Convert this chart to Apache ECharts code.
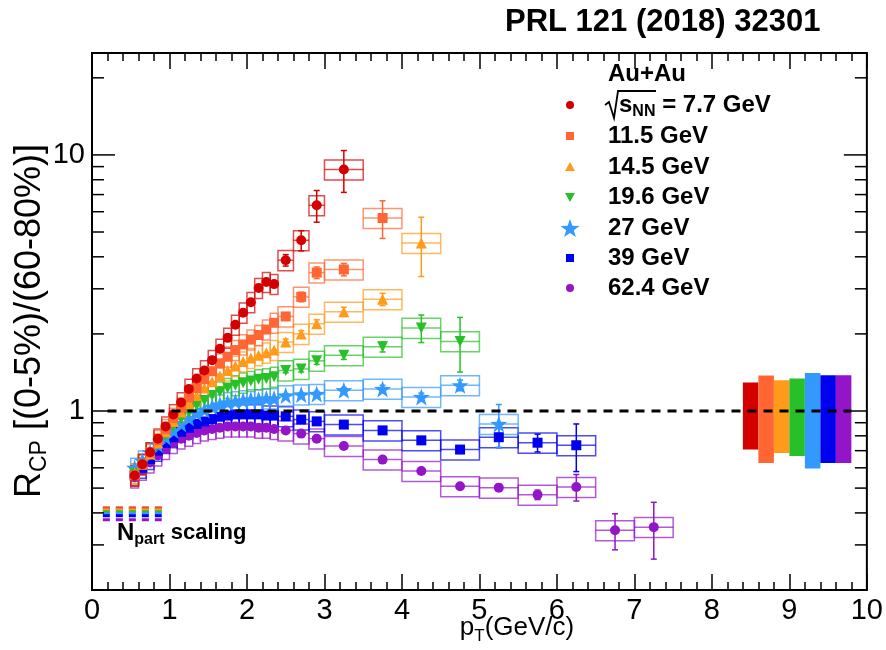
<!DOCTYPE html>
<html><head><meta charset="utf-8">
<script src="https://cdn.jsdelivr.net/npm/echarts@6/dist/echarts.min.js"></script>
<style>html,body{margin:0;padding:0;background:#fff}#c{width:886px;height:650px}</style>
</head><body><div id="c"></div>
<script>
// ---------------- data ----------------
const energies = ['7.7', '11.5', '14.5', '19.6', '27', '39', '62.4'];
const colors = ['#d40000', '#ff6633', '#ff9a1a', '#28c028', '#3399ff', '#0000f0', '#9414c8'];

const ptDense = [0.55,0.65,0.75,0.85,0.95,1.05,1.15,1.25,1.35,1.45,1.55,1.65,1.75,1.85,1.95,2.05,2.15,2.25,2.35];
const ptWide = [2.5,2.7,2.9,3.25,3.75,4.25,4.75,5.25,5.75,6.25,6.75,7.25];
const halfWide = [0.1,0.1,0.1,0.25,0.25,0.25,0.25,0.25,0.25,0.25,0.25,0.25];

const rcp77Dense   = [0.56,0.62,0.69,0.78,0.87,0.97,1.08,1.22,1.34,1.44,1.58,1.75,1.93,2.17,2.42,2.66,3.02,3.19,3.13];
const rcp115Dense  = [0.56,0.62,0.69,0.77,0.85,0.94,1.03,1.13,1.23,1.33,1.43,1.53,1.63,1.73,1.82,1.90,1.98,2.08,2.21];
const rcp145Dense  = [0.57,0.62,0.68,0.75,0.83,0.91,0.99,1.07,1.15,1.23,1.30,1.37,1.44,1.50,1.56,1.61,1.65,1.69,1.73];
const rcp196Dense  = [0.57,0.62,0.68,0.74,0.80,0.87,0.93,0.99,1.05,1.10,1.15,1.19,1.23,1.26,1.29,1.31,1.33,1.34,1.36];
const rcp27Dense   = [0.60,0.64,0.69,0.74,0.79,0.84,0.89,0.94,0.98,1.01,1.04,1.06,1.08,1.09,1.10,1.11,1.11,1.12,1.12];
const rcp39Dense   = [0.56,0.60,0.65,0.70,0.75,0.79,0.83,0.86,0.89,0.91,0.93,0.95,0.96,0.97,0.97,0.97,0.97,0.96,0.96];
const rcp624Dense  = [0.55,0.59,0.63,0.67,0.71,0.75,0.78,0.80,0.82,0.84,0.85,0.86,0.87,0.87,0.87,0.87,0.86,0.86,0.85];

const rcp77Wide  = [3.88,4.64,6.36,8.77];
const err77Wide  = [0.20,0.42,0.90,1.63];
const rcp115Wide = [2.34,2.79,3.47,3.57,5.67];
const err115Wide = [0.08,0.12,0.18,0.20,0.95];
const rcp145Wide = [1.86,2.00,2.19,2.44,2.73,4.53];
const err145Wide = [0.05,0.06,0.08,0.10,0.15,1.18];
const rcp196Wide = [1.44,1.46,1.57,1.65,1.78,2.11,1.87];
const err196Wide = [0.03,0.04,0.05,0.06,0.08,0.26,0.45];
const rcp27Wide  = [1.15,1.16,1.165,1.205,1.22,1.134,1.26,0.89];
const err27Wide  = [0.02,0.02,0.03,0.03,0.04,0.04,0.06,0.17];
const rcp39Wide  = [0.953,0.926,0.911,0.885,0.84,0.768,0.707,0.79,0.752,0.735];
const err39Wide  = [0.01,0.01,0.01,0.01,0.01,0.02,0.02,0.07,0.06,0.155];
const rcp624Wide = [0.84,0.816,0.78,0.73,0.646,0.583,0.508,0.502,0.471,0.505,0.342,0.352];
const err624Wide = [0.01,0.01,0.01,0.01,0.01,0.01,0.01,0.015,0.02,0.06,0.055,0.088];

const sysRel = 0.09;

// normalization uncertainty bands (right side)
const normX0 = [8.4,8.6,8.8,9.0,9.2,9.4,9.6];
const normW = 0.2;
const normLo = [0.707,0.627,0.685,0.667,0.596,0.627,0.627];
const normHi = [1.291,1.375,1.318,1.338,1.407,1.378,1.378];

// Npart scaling levels
const npartVal = [0.418,0.415,0.410,0.404,0.398,0.390,0.376];
const npartRange = [0.14, 0.9];

// axes
const yMin = 0.2, yMax = 25;
const yTicks = [0.2,0.3,0.4,0.5,0.6,0.7,0.8,0.9,1,2,3,4,5,6,7,8,9,10,20];
const yMajor = [1,10];
const xTickLabels = ['0','1','2','3','4','5','6','7','8','9','10'];

// ---------------- chart ----------------
const FONT = "'Liberation Sans',Arial,sans-serif";
const FONTB = "'Liberation Sans',Arial,sans-serif";
const STAR = 'path://M50 0 L61.76 33.82 L97.55 34.55 L69.02 56.18 L79.39 90.45 L50 70 L20.61 90.45 L30.98 56.18 L2.45 34.55 L38.24 33.82 Z';
const symbols = ['circle','rect','triangle','triangle',STAR,'rect','circle'];
const symRot = [0,0,0,180,0,0,0];
const symSize = [10,10,11,11,17,10,10];

const denseAll = [rcp77Dense,rcp115Dense,rcp145Dense,rcp196Dense,rcp27Dense,rcp39Dense,rcp624Dense];
const wideAll = [rcp77Wide,rcp115Wide,rcp145Wide,rcp196Wide,rcp27Wide,rcp39Wide,rcp624Wide];
const errAll = [err77Wide,err115Wide,err145Wide,err196Wide,err27Wide,err39Wide,err624Wide];

function mkData(k){
  const d = [];
  denseAll[k].forEach((v,i)=>d.push([ptDense[i], v, 0.05, 0]));
  wideAll[k].forEach((v,i)=>d.push([ptWide[i], v, halfWide[i], errAll[k][i]]));
  return d;
}

function boxRenderer(color){
  return function(params, api){
    const x = api.value(0), y = api.value(1), hw = api.value(2), e = api.value(3);
    const s = sysRel * y;
    const p0 = api.coord([x - hw, y + s]);
    const p1 = api.coord([x + hw, y - s]);
    const c = api.coord([x, y]);
    const st = {stroke: color, lineWidth: 1.5, fill: 'none', opacity: 0.7};
    const ch = [
      {type:'rect', shape:{x:p0[0], y:p0[1], width:p1[0]-p0[0], height:p1[1]-p0[1]}, style: st},
      {type:'line', shape:{x1:p0[0], y1:c[1], x2:p1[0], y2:c[1]}, style: st}
    ];
    if (e > 0) {
      const t = api.coord([x, y + e]);
      const b = api.coord([x, Math.max(y - e, 0.01)]);
      const es = {stroke: color, lineWidth: 1.5};
      ch.push({type:'line', shape:{x1:c[0], y1:t[1], x2:c[0], y2:b[1]}, style: es});
      ch.push({type:'line', shape:{x1:c[0]-3, y1:t[1], x2:c[0]+3, y2:t[1]}, style: es});
      ch.push({type:'line', shape:{x1:c[0]-3, y1:b[1], x2:c[0]+3, y2:b[1]}, style: es});
    }
    return {type:'group', children: ch};
  };
}

const series = [];

// normalization bands
series.push({
  type:'custom', z:1, silent:true,
  data: normX0.map((x,i)=>[x, normLo[i], normHi[i], i]),
  renderItem: function(params, api){
    const x = api.value(0), lo = api.value(1), hi = api.value(2), i = api.value(3);
    const a = api.coord([x, hi]), b = api.coord([x + normW, lo]);
    return {type:'rect', shape:{x:a[0], y:a[1], width:b[0]-a[0], height:b[1]-a[1]}, style:{fill: colors[i]}};
  }
});

// unity line
series.push({
  type:'line', z:6, silent:true, symbol:'none',
  data: [[0.2, 1], [9.8, 1]],
  lineStyle: {color:'#000', width:3, type:[9,7]}
});

// Npart scaling dashes
npartVal.forEach((v,i)=>{
  series.push({
    type:'line', z:4, silent:true, symbol:'none',
    data: [[npartRange[0], v], [npartRange[1], v]],
    lineStyle: {color: colors[i], width:3, type:[7,6]}
  });
});

// boxes + error bars, then markers
for (let k = 6; k >= 0; k--) {
  series.push({
    type:'custom', z:2, silent:true, name: energies[k] + ' sys',
    data: mkData(k), renderItem: boxRenderer(colors[k])
  });
}
for (let k = 6; k >= 0; k--) {
  series.push({
    type:'scatter', z:3, silent:true, name: energies[k] + ' GeV',
    data: mkData(k).map(d=>[d[0], d[1]]),
    symbol: symbols[k], symbolRotate: symRot[k], symbolSize: symSize[k],
    itemStyle: {color: colors[k], opacity: 1}
  });
}

// y ticks and labels (log axis, ROOT style)
series.push({
  type:'custom', z:5, silent:true,
  data: yTicks.map(v=>[0, v]),
  renderItem: function(params, api){
    const v = api.value(1);
    const L = api.coord([0, v]), R = api.coord([10, v]);
    const major = yMajor.indexOf(v) >= 0;
    const len = major ? 23 : 12;
    const st = {stroke:'#000', lineWidth:1.5};
    const ch = [
      {type:'line', shape:{x1:L[0], y1:L[1], x2:L[0]+len, y2:L[1]}, style: st},
      {type:'line', shape:{x1:R[0]-len, y1:R[1], x2:R[0], y2:R[1]}, style: st}
    ];
    if (major) {
      ch.push({type:'text', style:{text: String(v), x: L[0]-7, y: L[1],
        align:'right', verticalAlign:'middle', textAlign:'right', textVerticalAlign:'middle',
        font: '29px ' + FONT, fill:'#000'}});
    }
    return {type:'group', children: ch};
  }
});

const legendRows = [105,136,167,197,228,258,288];
const lx = 570;
function starPts(cx, cy, R, r){
  const p = [];
  for (let i = 0; i < 10; i++) {
    const ang = -Math.PI/2 + i * Math.PI/5;
    const rr = i % 2 === 0 ? R : r;
    p.push([cx + rr*Math.cos(ang), cy + rr*Math.sin(ang)]);
  }
  return p;
}
const legendMarks = [
  {type:'circle', shape:{cx:lx, cy:legendRows[0], r:4}, style:{fill:colors[0]}},
  {type:'rect', shape:{x:lx-4, y:legendRows[1]-4, width:8, height:8}, style:{fill:colors[1]}},
  {type:'polygon', shape:{points:[[lx,legendRows[2]-5],[lx+5,legendRows[2]+4],[lx-5,legendRows[2]+4]]}, style:{fill:colors[2]}},
  {type:'polygon', shape:{points:[[lx-5,legendRows[3]-4],[lx+5,legendRows[3]-4],[lx,legendRows[3]+5]]}, style:{fill:colors[3]}},
  {type:'polygon', shape:{points:starPts(lx, legendRows[4]+1, 10, 4)}, style:{fill:colors[4]}},
  {type:'rect', shape:{x:lx-4, y:legendRows[5]-4, width:8, height:8}, style:{fill:colors[5]}},
  {type:'circle', shape:{cx:lx, cy:legendRows[6], r:4}, style:{fill:colors[6]}}
];
const legendTexts = energies.map((e,i)=> i === 0 ? null : {
  type:'text', x:608, y:legendRows[i],
  style:{text: e + ' GeV', font:'bold 24px ' + FONTB, fill:'#000', align:'left', verticalAlign:'middle', textAlign:'left', textVerticalAlign:'middle'}
}).filter(Boolean);

const graphics = [
  {type:'text', x:505, y:22, style:{text:'PRL 121 (2018) 32301', font:'bold 31px ' + FONTB, fill:'#000', align:'left', verticalAlign:'middle', textAlign:'left', textVerticalAlign:'middle'}},
  {type:'text', x:608, y:74, style:{text:'Au+Au', font:'bold 24px ' + FONTB, fill:'#000', align:'left', verticalAlign:'middle', textAlign:'left', textVerticalAlign:'middle'}},
  {type:'polyline', shape:{points:[[605,105],[609,102],[614,118],[618,91],[656,91]]}, style:{stroke:'#000', lineWidth:1.8, fill:'none'}},
  {type:'text', x:619, y:105, style:{
    text:'{a|s}{b|NN}{a| = 7.7 GeV}',
    align:'left', verticalAlign:'middle', textAlign:'left', textVerticalAlign:'middle',
    rich:{a:{fontSize:24, fontWeight:'bold', fontFamily:FONTB, lineHeight:30, verticalAlign:'middle', color:'#000'},
          b:{fontSize:16, fontWeight:'bold', fontFamily:FONTB, lineHeight:16, verticalAlign:'bottom', color:'#000'}}
  }},
  {type:'text', x:117, y:533, style:{
    text:'{a|N}{b|part}{c| scaling}',
    align:'left', verticalAlign:'middle', textAlign:'left', textVerticalAlign:'middle',
    rich:{a:{fontSize:24, fontWeight:'bold', fontFamily:FONTB, lineHeight:30, verticalAlign:'middle', color:'#000'},
          b:{fontSize:16, fontWeight:'bold', fontFamily:FONTB, lineHeight:14, verticalAlign:'bottom', color:'#000'},
          c:{fontSize:22, fontWeight:'bold', fontFamily:FONTB, lineHeight:30, verticalAlign:'middle', color:'#000'}}
  }},
  {type:'text', x:30, y:321, rotation: Math.PI/2, style:{
    text:'{a|R}{b|CP}{a| [(0-5%)/(60-80%)]}',
    align:'center', verticalAlign:'middle', textAlign:'center', textVerticalAlign:'middle',
    rich:{a:{fontSize:36, fontFamily:FONT, lineHeight:42, verticalAlign:'middle', color:'#000'},
          b:{fontSize:23, fontFamily:FONT, lineHeight:23, verticalAlign:'bottom', color:'#000'}}
  }},
  {type:'text', x:517, y:628, style:{
    text:'{a|p}{b|T}{a|(GeV/c)}',
    align:'center', verticalAlign:'middle', textAlign:'center', textVerticalAlign:'middle',
    rich:{a:{fontSize:26, fontFamily:FONT, lineHeight:34, verticalAlign:'middle', color:'#000'},
          b:{fontSize:17, fontFamily:FONT, lineHeight:16, verticalAlign:'bottom', color:'#000'}}
  }}
].concat(legendMarks).concat(legendTexts);

const xAxisCommon = {
  type:'value', min:0, max:10, interval:1,
  axisLine:{show:false}, splitLine:{show:false},
  axisTick:{show:true, inside:true, length:16, lineStyle:{color:'#000', width:1.5}},
  minorTick:{show:true, splitNumber:5, length:8, lineStyle:{color:'#000', width:1.5}},
  minorSplitLine:{show:false}
};

const option = {
  animation:false,
  backgroundColor:'#fff',
  grid:{left:92, right:18, top:53, bottom:60, show:true, borderColor:'#000', borderWidth:2, backgroundColor:'transparent'},
  xAxis:[
    Object.assign({}, xAxisCommon, {position:'bottom',
      axisLabel:{show:true, margin:6, fontSize:29, fontFamily:FONT, color:'#000',
        formatter: v => xTickLabels[Math.round(v)] }}),
    Object.assign({}, xAxisCommon, {position:'top', axisLabel:{show:false}})
  ],
  yAxis:{type:'log', logBase:10, min:yMin, max:yMax,
    axisLine:{show:false}, axisTick:{show:false}, axisLabel:{show:false}, splitLine:{show:false}},
  graphic: graphics,
  series: series
};

const chart = echarts.init(document.getElementById('c'));
chart.setOption(option);
</script>
</body></html>
